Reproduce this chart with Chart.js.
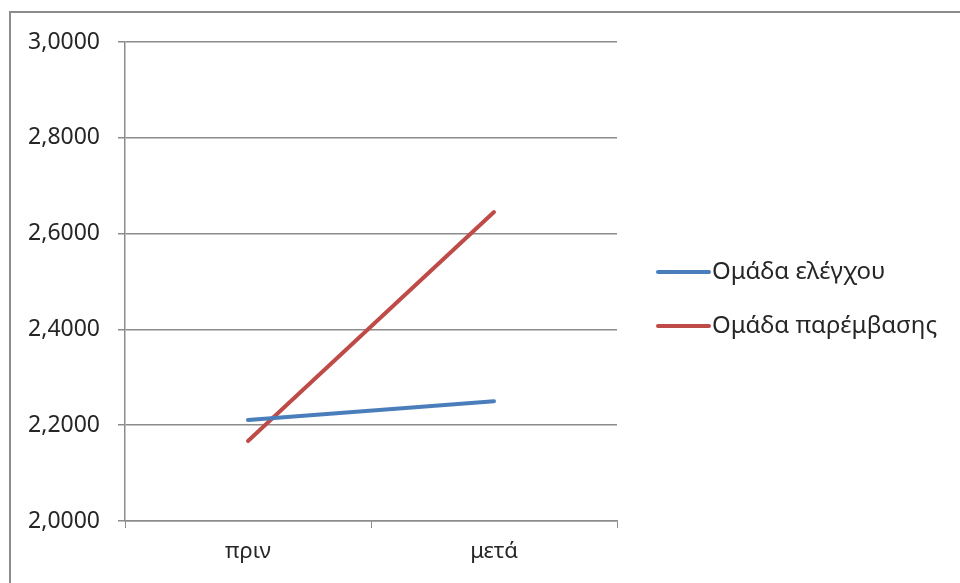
<!DOCTYPE html>
<html>
<head>
<meta charset="utf-8">
<script src="https://cdn.jsdelivr.net/npm/chart.js@4"></script>
<style>
    html, body { margin: 0; padding: 0; background: #fff; }
    #wrap { position: relative; width: 960px; height: 583px; overflow: hidden; }
    #frame { position: absolute; left: 9px; top: 11px; width: 980px; height: 600px; border: 2px solid #8c8c8c; box-sizing: border-box; }
    canvas { position: absolute; left: 0; top: 0; }
</style>
</head>
<body>
<div id="wrap">
    <div id="frame"></div>
    <canvas id="chart" width="960" height="583"></canvas>
</div>
<script>

const categories = ["πριν", "μετά"];

const seriesNames = ["Ομάδα ελέγχου", "Ομάδα παρέμβασης"];

const controlValues = [2.211, 2.250];

const interventionValues = [2.167, 2.645];

const seriesColors = ["#4a7ebb", "#be4b48"];

// Legend drawn by hand at the right, like the original
const sideLegend = {
    id: "sideLegend",
    afterDraw(chart) {
        const ctx = chart.ctx;
        const rows = [272, 326];
        ctx.save();
        chart.data.datasets.forEach((ds, i) => {
            const y = rows[i];
            ctx.strokeStyle = ds.borderColor;
            ctx.lineWidth = 4;
            ctx.lineCap = "round";
            ctx.beginPath();
            ctx.moveTo(658, y);
            ctx.lineTo(709, y);
            ctx.stroke();
            ctx.fillStyle = "#262626";
            ctx.font = "24px 'Noto Sans'";
            ctx.textBaseline = "middle";
            ctx.fillText(ds.label, 712, y);
        });
        ctx.restore();
    }
};

new Chart(document.getElementById("chart").getContext("2d"), {

    type: "line",

    data: {
        labels: categories,
        datasets: [
            {
                label: seriesNames[0],
                data: controlValues,
                borderColor: seriesColors[0],
                backgroundColor: seriesColors[0],
                borderWidth: 4,
                pointRadius: 0,
                borderCapStyle: "round"
            },
            {
                label: seriesNames[1],
                data: interventionValues,
                borderColor: seriesColors[1],
                backgroundColor: seriesColors[1],
                borderWidth: 4,
                pointRadius: 0,
                borderCapStyle: "round"
            }
        ]
    },

    options: {

        responsive: false,
        animation: false,

        layout: {
            padding: { left: 0, top: 42, right: 343, bottom: 0 }
        },

        plugins: {
            legend: { display: false },
            tooltip: { enabled: false }
        },

        scales: {

            x: {
                offset: true,
                afterFit(scale) { scale.height = 62; },
                grid: {
                    offset: true,
                    drawOnChartArea: false,
                    color: "#8c8c8c",
                    tickLength: 7
                },
                border: { color: "#8c8c8c", width: 1.5 },
                ticks: {
                    color: "#262626",
                    font: { family: "Noto Sans", size: 22 },
                    padding: 11
                }
            },

            y: {
                min: 2.0,
                max: 3.0,
                afterFit(scale) { scale.width = 125; },
                grid: {
                    color: "#8c8c8c",
                    lineWidth: 1.5,
                    tickLength: 7
                },
                border: { color: "#8c8c8c", width: 1.5 },
                ticks: {
                    stepSize: 0.2,
                    color: "#262626",
                    font: { family: "Noto Sans", size: 23 },
                    padding: 18,
                    callback: v => v.toFixed(4).replace(".", ",")
                }
            }

        }

    },

    plugins: [sideLegend]

});

</script>
</body>
</html>
